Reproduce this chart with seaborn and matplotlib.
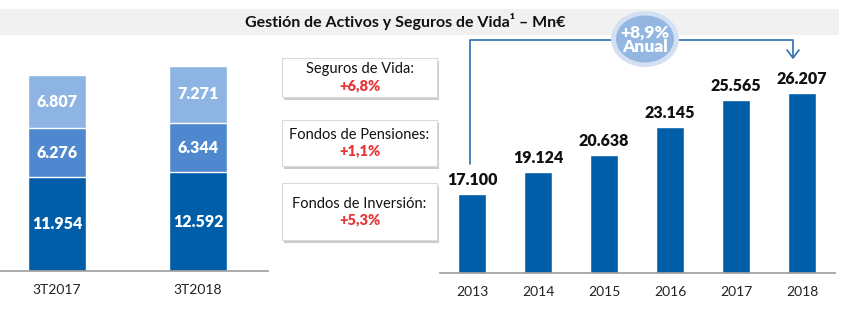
import matplotlib
matplotlib.use("Agg")
import matplotlib.pyplot as plt
import seaborn as sns
import pandas as pd
import numpy as np
from matplotlib.patches import Ellipse, Rectangle
from matplotlib.lines import Line2D

# ---- data ----
quarters = ["3T2017", "3T2018"]
fondos_inversion = [11954, 12592]
fondos_pensiones = [6276, 6344]
seguros_vida = [6807, 7271]

years = ["2013", "2014", "2015", "2016", "2017", "2018"]
totals = [17100, 19124, 20638, 23145, 25565, 26207]

box_labels = ["Seguros de Vida:", "Fondos de Pensiones:", "Fondos de Inversión:"]
box_values = ["+6,8%", "+1,1%", "+5,3%"]
cagr_text = "+8,9%\nAnual"
title = "Gestión de Activos y Seguros de Vida¹ – Mn€"

def fmt(v):
    return f"{v:,}".replace(",", ".")

sns.set_theme(style="white")
plt.rcParams['font.family'] = ['Lato', 'DejaVu Sans']

W, H = 844, 327
fig = plt.figure(figsize=(W / 100, H / 100), dpi=100)

def fx(px):
    return px / W

def fy(py):
    return 1 - py / H

DARK = "#005ea8"
MID = "#4f88cf"
LIGHT = "#8db4e3"
RED = "#e5383b"

# ---- title band ----
fig.patches.append(Rectangle((0, fy(35)), fx(839), fy(9) - fy(35), transform=fig.transFigure,
                             facecolor="#f1f1f1", edgecolor="none", zorder=-5))
fig.text(fx(405), fy(22), title, ha="center", va="center", fontsize=11.5,
         fontweight="bold", color="#111111")

# ---- left stacked chart ----
axL = fig.add_axes([fx(0), fy(271), fx(268), fy(40) - fy(271)])
axL.patch.set_alpha(0)
df = pd.DataFrame({"q": quarters, "inv": fondos_inversion,
                   "pen": fondos_pensiones, "vida": seguros_vida})
df["c1"] = df["inv"]
df["c2"] = df["inv"] + df["pen"]
df["c3"] = df["c2"] + df["vida"]
sns.barplot(data=df, x="q", y="c3", color=LIGHT, width=0.41, saturation=1, ax=axL)
sns.barplot(data=df, x="q", y="c2", color=MID, width=0.41, saturation=1, ax=axL)
sns.barplot(data=df, x="q", y="c1", color=DARK, width=0.41, saturation=1, ax=axL)
for i, row in df.iterrows():
    for lo, hi, v in [(0, row.c1, row.inv), (row.c1, row.c2, row.pen), (row.c2, row.c3, row.vida)]:
        axL.text(i, (lo + hi) / 2, fmt(v), ha="center", va="center", color="white",
                 fontsize=11.5, fontweight="heavy")
axL.set_xlim(-0.404, 1.496)
axL.set_ylim(0, 29500)
axL.set_xlabel("")
axL.set_ylabel("")
axL.set_yticks([])
for s in ["top", "right", "left"]:
    axL.spines[s].set_visible(False)
axL.spines["bottom"].set_color("#a0a0a0")
axL.tick_params(axis="x", length=0, pad=9, labelsize=10, labelcolor="#222222")

# ---- text boxes ----
boxes = [(58, 97), (120, 166), (183, 240)]
for (top, bot), lab, val in zip(boxes, box_labels, box_values):
    x0, x1 = 282, 437
    fig.patches.append(Rectangle((fx(x0 + 2), fy(bot + 3)), fx(x1 - x0), fy(top) - fy(bot),
                                 transform=fig.transFigure, facecolor="#cccccc",
                                 edgecolor="none", zorder=1))
    fig.patches.append(Rectangle((fx(x0), fy(bot)), fx(x1 - x0), fy(top) - fy(bot),
                                 transform=fig.transFigure, facecolor="white",
                                 edgecolor="#dadada", linewidth=0.8, zorder=2))
    mid = (top + bot) / 2
    fig.text(fx((x0 + x1) / 2), fy(mid - 8), lab, ha="center", va="center",
             fontsize=10.5, color="#111111", zorder=3)
    fig.text(fx((x0 + x1) / 2), fy(mid + 8), val, ha="center", va="center",
             fontsize=10.5, fontweight="heavy", color=RED, zorder=3)

# ---- right chart ----
axR = fig.add_axes([fx(440), fy(273), fx(835 - 440), fy(40) - fy(273)])
axR.patch.set_alpha(0)
dfr = pd.DataFrame({"year": years, "total": totals})
sns.barplot(data=dfr, x="year", y="total", color=DARK, width=0.41, saturation=1, ax=axR)
for i, v in enumerate(totals):
    axR.annotate(fmt(v), (i, v), xytext=(0, 14), textcoords="offset pixels",
                 ha="center", va="center", fontsize=11.5, fontweight="heavy", color="#111111")
axR.set_xlim(-0.485, 5.5)
axR.set_ylim(10000, 31010)
axR.set_xlabel("")
axR.set_ylabel("")
axR.set_yticks([])
for s in ["top", "right", "left"]:
    axR.spines[s].set_visible(False)
axR.spines["bottom"].set_color("#a0a0a0")
axR.tick_params(axis="x", length=0, pad=9, labelsize=10, labelcolor="#222222")

# ---- bracket & CAGR bubble ----
LINE = "#2e6eaf"
ax_over = fig.add_axes([0, 0, 1, 1], facecolor="none")
ax_over.set_zorder(10)
ax_over.set_xlim(0, W)
ax_over.set_ylim(H, 0)
ax_over.axis("off")
ax_over.plot([470, 470, 793, 793], [164, 40, 40, 57], color=LINE, linewidth=1.2, zorder=3)
ax_over.plot([787, 793, 799], [50, 58, 50], color=LINE, linewidth=1.2, zorder=3)
ax_over.add_patch(Ellipse((645, 39), 68, 56, facecolor="#d3e0f1", edgecolor="none", zorder=4))
ax_over.add_patch(Ellipse((645, 39), 58, 47, facecolor="#94b7e2", edgecolor="none", zorder=5))
ax_over.text(645, 40, cagr_text, ha="center", va="center", color="white", fontsize=12.5,
             fontweight="heavy", linespacing=0.9, zorder=6)

fig.savefig("out.png", dpi=100)
